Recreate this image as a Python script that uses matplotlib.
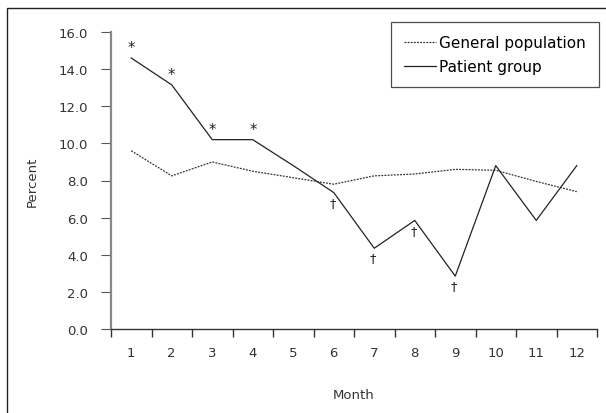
import matplotlib
matplotlib.use("Agg")
import matplotlib.pyplot as plt
from matplotlib.patches import Rectangle

months = [1, 2, 3, 4, 5, 6, 7, 8, 9, 10, 11, 12]
general = [9.6, 8.25, 9.0, 8.5, 8.15, 7.8, 8.25, 8.35, 8.6, 8.55, 7.95, 7.4]
patient = [14.6, 13.15, 10.2, 10.2, 8.8, 7.35, 4.35, 5.85, 2.85, 8.8, 5.85, 8.8]
star_months = [1, 2, 3, 4]
dagger_months = [6, 7, 8, 9]
yticks = [0, 2, 4, 6, 8, 10, 12, 14, 16]

plt.rcParams['font.family'] = ['DejaVu Sans']
fig = plt.figure(figsize=(6.06, 4.14), dpi=100)
fig.patches.append(Rectangle((7/606, -0.01), 1.02, 1 - 9/414 + 0.01, transform=fig.transFigure,
                             fill=False, edgecolor='#222222', linewidth=1.0))
ax = fig.add_axes([111/606, 1 - 330/414, 486/606, 297/414])

ax.plot(months, general, color='#333333', linewidth=0.9, linestyle=(0, (1.5, 1.0)), label='General population')
ax.plot(months, patient, color='#222222', linewidth=0.9, label='Patient group')

for m in star_months:
    v = patient[m - 1]
    ax.annotate('*', (m, v), xytext=(0, 7.5), textcoords='offset points',
                ha='center', va='center', fontsize=10.5, color='#222222')
for m in dagger_months:
    v = patient[m - 1]
    ax.annotate('\u2020', (m, v), xytext=(-1, -7), textcoords='offset points',
                ha='center', va='center', fontsize=9, color='#222222')

ax.set_xlim(0.5, 12.5)
ax.set_ylim(0, 16)
ax.set_yticks(yticks)
ax.set_yticklabels([f'{t:.1f}' for t in yticks])
ax.set_xticks(months)
ax.set_xticks([m + 0.5 for m in [0] + months], minor=True)
ax.tick_params(axis='x', which='major', length=0, pad=12, labelsize=9.5, colors='#333333')
ax.tick_params(axis='x', which='minor', length=6, width=1, direction='out', color='#333333')
ax.tick_params(axis='y', length=7, width=0.8, pad=9.5, labelsize=9.5, colors='#333333', color='#555555')
for s in ['top', 'right']:
    ax.spines[s].set_visible(False)
ax.spines['left'].set_color('#888888')
ax.spines['left'].set_linewidth(1.6)
ax.spines['bottom'].set_color('#333333')
ax.spines['bottom'].set_linewidth(1.0)

ax.set_xlabel('Month', fontsize=9.5, color='#333333', va='center')
ax.xaxis.set_label_coords(0.5, (330 - 396) / 297)
ax.set_ylabel('Percent', fontsize=9.5, color='#333333', va='center')
ax.yaxis.set_label_coords((32 - 111) / 486, 0.5)

leg = ax.legend(loc='upper right', bbox_to_anchor=((599 - 111) / 486, (330 - 23) / 297),
                frameon=True, fancybox=False, fontsize=11, handlelength=2.1,
                handletextpad=0.2, borderpad=0.85, labelspacing=0.6, borderaxespad=0)
leg.get_frame().set_edgecolor('#222222')
leg.get_frame().set_linewidth(0.9)

fig.savefig('out.png', dpi=100)
